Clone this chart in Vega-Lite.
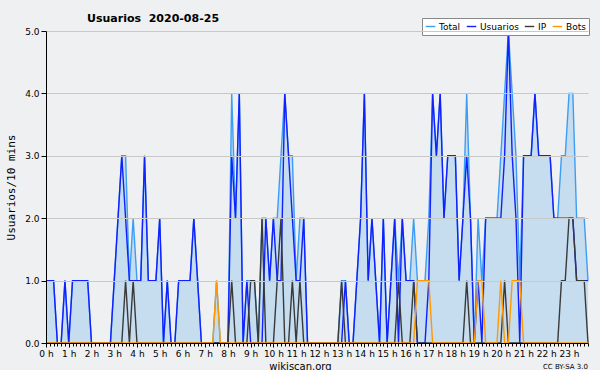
{
"$schema": "https://vega.github.io/schema/vega-lite/v6.json",
"width": 542, "height": 312,
"autosize": {"type": "none"},
"padding": {"left": 46, "top": 31, "right": 12, "bottom": 27},
"background": "#eff0f1",
"config": {"view": {"stroke": null}, "font": "DejaVu Sans"},
"title": {"text": "Usuarios\u00a0 2020-08-25", "anchor": "start", "frame": "group", "dx": 41, "dy": 14, "offset": 8, "fontSize": 11, "fontWeight": "bold", "font": "DejaVu Sans", "color": "#000"},
"data": {"values": [
{"m":0,"Total":1,"Usuarios":1,"IP":0,"Bots":0},
{"m":10,"Total":1,"Usuarios":1,"IP":0,"Bots":0},
{"m":20,"Total":1,"Usuarios":1,"IP":0,"Bots":0},
{"m":30,"Total":0,"Usuarios":0,"IP":0,"Bots":0},
{"m":40,"Total":0,"Usuarios":0,"IP":0,"Bots":0},
{"m":50,"Total":1,"Usuarios":1,"IP":0,"Bots":0},
{"m":60,"Total":0,"Usuarios":0,"IP":0,"Bots":0},
{"m":70,"Total":1,"Usuarios":1,"IP":0,"Bots":0},
{"m":80,"Total":1,"Usuarios":1,"IP":0,"Bots":0},
{"m":90,"Total":1,"Usuarios":1,"IP":0,"Bots":0},
{"m":100,"Total":1,"Usuarios":1,"IP":0,"Bots":0},
{"m":110,"Total":1,"Usuarios":1,"IP":0,"Bots":0},
{"m":120,"Total":0,"Usuarios":0,"IP":0,"Bots":0},
{"m":130,"Total":0,"Usuarios":0,"IP":0,"Bots":0},
{"m":140,"Total":0,"Usuarios":0,"IP":0,"Bots":0},
{"m":150,"Total":0,"Usuarios":0,"IP":0,"Bots":0},
{"m":160,"Total":0,"Usuarios":0,"IP":0,"Bots":0},
{"m":170,"Total":0,"Usuarios":0,"IP":0,"Bots":0},
{"m":180,"Total":1,"Usuarios":1,"IP":0,"Bots":0},
{"m":190,"Total":2,"Usuarios":2,"IP":0,"Bots":0},
{"m":200,"Total":3,"Usuarios":3,"IP":0,"Bots":0},
{"m":210,"Total":3,"Usuarios":2,"IP":1,"Bots":0},
{"m":220,"Total":1,"Usuarios":1,"IP":0,"Bots":0},
{"m":230,"Total":2,"Usuarios":1,"IP":1,"Bots":0},
{"m":240,"Total":1,"Usuarios":1,"IP":0,"Bots":0},
{"m":250,"Total":1,"Usuarios":1,"IP":0,"Bots":0},
{"m":260,"Total":3,"Usuarios":3,"IP":0,"Bots":0},
{"m":270,"Total":1,"Usuarios":1,"IP":0,"Bots":0},
{"m":280,"Total":1,"Usuarios":1,"IP":0,"Bots":0},
{"m":290,"Total":1,"Usuarios":1,"IP":0,"Bots":0},
{"m":300,"Total":2,"Usuarios":2,"IP":0,"Bots":0},
{"m":310,"Total":0,"Usuarios":0,"IP":0,"Bots":0},
{"m":320,"Total":1,"Usuarios":1,"IP":0,"Bots":0},
{"m":330,"Total":0,"Usuarios":0,"IP":0,"Bots":0},
{"m":340,"Total":0,"Usuarios":0,"IP":0,"Bots":0},
{"m":350,"Total":1,"Usuarios":1,"IP":0,"Bots":0},
{"m":360,"Total":1,"Usuarios":1,"IP":0,"Bots":0},
{"m":370,"Total":1,"Usuarios":1,"IP":0,"Bots":0},
{"m":380,"Total":1,"Usuarios":1,"IP":0,"Bots":0},
{"m":390,"Total":2,"Usuarios":2,"IP":0,"Bots":0},
{"m":400,"Total":1,"Usuarios":1,"IP":0,"Bots":0},
{"m":410,"Total":0,"Usuarios":0,"IP":0,"Bots":0},
{"m":420,"Total":0,"Usuarios":0,"IP":0,"Bots":0},
{"m":430,"Total":0,"Usuarios":0,"IP":0,"Bots":0},
{"m":440,"Total":0,"Usuarios":0,"IP":0,"Bots":0},
{"m":450,"Total":1,"Usuarios":0,"IP":0,"Bots":1},
{"m":460,"Total":0,"Usuarios":0,"IP":0,"Bots":0},
{"m":470,"Total":0,"Usuarios":0,"IP":0,"Bots":0},
{"m":480,"Total":0,"Usuarios":0,"IP":0,"Bots":0},
{"m":490,"Total":4,"Usuarios":3,"IP":1,"Bots":0},
{"m":500,"Total":2,"Usuarios":2,"IP":0,"Bots":0},
{"m":510,"Total":4,"Usuarios":4,"IP":0,"Bots":0},
{"m":520,"Total":0,"Usuarios":0,"IP":0,"Bots":0},
{"m":530,"Total":1,"Usuarios":1,"IP":0,"Bots":0},
{"m":540,"Total":1,"Usuarios":0,"IP":1,"Bots":0},
{"m":550,"Total":1,"Usuarios":0,"IP":1,"Bots":0},
{"m":560,"Total":0,"Usuarios":0,"IP":0,"Bots":0},
{"m":570,"Total":2,"Usuarios":0,"IP":2,"Bots":0},
{"m":580,"Total":2,"Usuarios":2,"IP":0,"Bots":0},
{"m":590,"Total":1,"Usuarios":1,"IP":0,"Bots":0},
{"m":600,"Total":2,"Usuarios":2,"IP":0,"Bots":0},
{"m":610,"Total":2,"Usuarios":1,"IP":1,"Bots":0},
{"m":620,"Total":3,"Usuarios":1,"IP":2,"Bots":0},
{"m":630,"Total":4,"Usuarios":4,"IP":0,"Bots":0},
{"m":640,"Total":3,"Usuarios":3,"IP":0,"Bots":0},
{"m":650,"Total":3,"Usuarios":2,"IP":1,"Bots":0},
{"m":660,"Total":1,"Usuarios":1,"IP":0,"Bots":0},
{"m":670,"Total":2,"Usuarios":1,"IP":1,"Bots":0},
{"m":680,"Total":2,"Usuarios":2,"IP":0,"Bots":0},
{"m":690,"Total":0,"Usuarios":0,"IP":0,"Bots":0},
{"m":700,"Total":0,"Usuarios":0,"IP":0,"Bots":0},
{"m":710,"Total":0,"Usuarios":0,"IP":0,"Bots":0},
{"m":720,"Total":0,"Usuarios":0,"IP":0,"Bots":0},
{"m":730,"Total":0,"Usuarios":0,"IP":0,"Bots":0},
{"m":740,"Total":0,"Usuarios":0,"IP":0,"Bots":0},
{"m":750,"Total":0,"Usuarios":0,"IP":0,"Bots":0},
{"m":760,"Total":0,"Usuarios":0,"IP":0,"Bots":0},
{"m":770,"Total":0,"Usuarios":0,"IP":0,"Bots":0},
{"m":780,"Total":1,"Usuarios":0,"IP":1,"Bots":0},
{"m":790,"Total":1,"Usuarios":1,"IP":0,"Bots":0},
{"m":800,"Total":0,"Usuarios":0,"IP":0,"Bots":0},
{"m":810,"Total":0,"Usuarios":0,"IP":0,"Bots":0},
{"m":820,"Total":1,"Usuarios":1,"IP":0,"Bots":0},
{"m":830,"Total":2,"Usuarios":2,"IP":0,"Bots":0},
{"m":840,"Total":4,"Usuarios":4,"IP":0,"Bots":0},
{"m":850,"Total":1,"Usuarios":1,"IP":0,"Bots":0},
{"m":860,"Total":2,"Usuarios":2,"IP":0,"Bots":0},
{"m":870,"Total":1,"Usuarios":1,"IP":0,"Bots":0},
{"m":880,"Total":0,"Usuarios":0,"IP":0,"Bots":0},
{"m":890,"Total":2,"Usuarios":2,"IP":0,"Bots":0},
{"m":900,"Total":0,"Usuarios":0,"IP":0,"Bots":0},
{"m":910,"Total":1,"Usuarios":1,"IP":0,"Bots":0},
{"m":920,"Total":2,"Usuarios":2,"IP":0,"Bots":0},
{"m":930,"Total":1,"Usuarios":0,"IP":1,"Bots":0},
{"m":940,"Total":2,"Usuarios":2,"IP":0,"Bots":0},
{"m":950,"Total":1,"Usuarios":1,"IP":0,"Bots":0},
{"m":960,"Total":1,"Usuarios":1,"IP":0,"Bots":0},
{"m":970,"Total":2,"Usuarios":1,"IP":1,"Bots":0},
{"m":980,"Total":1,"Usuarios":0,"IP":0,"Bots":1},
{"m":990,"Total":1,"Usuarios":0,"IP":0,"Bots":1},
{"m":1000,"Total":1,"Usuarios":0,"IP":0,"Bots":1},
{"m":1010,"Total":2,"Usuarios":1,"IP":0,"Bots":1},
{"m":1020,"Total":4,"Usuarios":4,"IP":0,"Bots":0},
{"m":1030,"Total":3,"Usuarios":3,"IP":0,"Bots":0},
{"m":1040,"Total":4,"Usuarios":4,"IP":0,"Bots":0},
{"m":1050,"Total":2,"Usuarios":2,"IP":0,"Bots":0},
{"m":1060,"Total":3,"Usuarios":3,"IP":0,"Bots":0},
{"m":1070,"Total":3,"Usuarios":3,"IP":0,"Bots":0},
{"m":1080,"Total":3,"Usuarios":3,"IP":0,"Bots":0},
{"m":1090,"Total":1,"Usuarios":1,"IP":0,"Bots":0},
{"m":1100,"Total":2,"Usuarios":2,"IP":0,"Bots":0},
{"m":1110,"Total":4,"Usuarios":3,"IP":1,"Bots":0},
{"m":1120,"Total":2,"Usuarios":2,"IP":0,"Bots":0},
{"m":1130,"Total":0,"Usuarios":0,"IP":0,"Bots":0},
{"m":1140,"Total":2,"Usuarios":1,"IP":0,"Bots":1},
{"m":1150,"Total":1,"Usuarios":0,"IP":0,"Bots":1},
{"m":1160,"Total":2,"Usuarios":2,"IP":0,"Bots":0},
{"m":1170,"Total":2,"Usuarios":2,"IP":0,"Bots":0},
{"m":1180,"Total":2,"Usuarios":2,"IP":0,"Bots":0},
{"m":1190,"Total":2,"Usuarios":2,"IP":0,"Bots":0},
{"m":1200,"Total":3,"Usuarios":2,"IP":0,"Bots":1},
{"m":1210,"Total":4,"Usuarios":3,"IP":1,"Bots":0},
{"m":1220,"Total":5,"Usuarios":5,"IP":0,"Bots":0},
{"m":1230,"Total":4,"Usuarios":3,"IP":0,"Bots":1},
{"m":1240,"Total":3,"Usuarios":2,"IP":0,"Bots":1},
{"m":1250,"Total":1,"Usuarios":0,"IP":0,"Bots":1},
{"m":1260,"Total":3,"Usuarios":3,"IP":0,"Bots":0},
{"m":1270,"Total":3,"Usuarios":3,"IP":0,"Bots":0},
{"m":1280,"Total":3,"Usuarios":3,"IP":0,"Bots":0},
{"m":1290,"Total":4,"Usuarios":4,"IP":0,"Bots":0},
{"m":1300,"Total":3,"Usuarios":3,"IP":0,"Bots":0},
{"m":1310,"Total":3,"Usuarios":3,"IP":0,"Bots":0},
{"m":1320,"Total":3,"Usuarios":3,"IP":0,"Bots":0},
{"m":1330,"Total":3,"Usuarios":3,"IP":0,"Bots":0},
{"m":1340,"Total":2,"Usuarios":2,"IP":0,"Bots":0},
{"m":1350,"Total":2,"Usuarios":2,"IP":0,"Bots":0},
{"m":1360,"Total":3,"Usuarios":2,"IP":1,"Bots":0},
{"m":1370,"Total":3,"Usuarios":2,"IP":1,"Bots":0},
{"m":1380,"Total":4,"Usuarios":2,"IP":2,"Bots":0},
{"m":1390,"Total":4,"Usuarios":2,"IP":2,"Bots":0},
{"m":1400,"Total":2,"Usuarios":1,"IP":1,"Bots":0},
{"m":1410,"Total":2,"Usuarios":1,"IP":1,"Bots":0},
{"m":1420,"Total":2,"Usuarios":1,"IP":1,"Bots":0},
{"m":1430,"Total":1,"Usuarios":1,"IP":0,"Bots":0}
]},
"layer": [
 {"mark": {"type": "area", "color": "#c6ddf0", "opacity": 1},
  "encoding": {
   "x": {"field": "m", "type": "quantitative",
     "scale": {"domain": [0, 1430], "nice": false, "zero": false},
     "axis": {"tickCount": 143, "labelExpr": "datum.value % 60 === 0 ? (datum.value / 60) + ' h' : ''",
       "labelOverlap": false, "labelFlush": false, "labelBound": false, "grid": false,
       "domainColor": "#000", "tickColor": "#000", "zindex": 1,
       "tickSize": {"condition": {"test": "datum.value % 60 === 0", "value": 4}, "value": 3},
       "labelFont": "DejaVu Sans", "labelFontSize": 9, "labelColor": "#000", "labelPadding": 2,
       "title": "wikiscan.org", "titleFont": "DejaVu Sans", "titleFontSize": 10, "titleFontWeight": "normal",
       "titleColor": "#000", "titlePadding": 3, "titleX": 254}},
   "y": {"field": "Total", "type": "quantitative",
     "scale": {"domain": [0, 5], "nice": false},
     "axis": {"values": [0,0.25,0.5,0.75,1,1.25,1.5,1.75,2,2.25,2.5,2.75,3,3.25,3.5,3.75,4,4.25,4.5,4.75,5],
       "labelExpr": "datum.value % 1 === 0 ? format(datum.value, '.1f') : ''",
       "labelOverlap": false, "labelFlush": false, "labelBound": false,
       "grid": true, "gridColor": "#c8c8c8",
       "gridOpacity": {"condition": {"test": "datum.value % 1 === 0 && datum.value > 0", "value": 1}, "value": 0},
       "tickSize": {"condition": {"test": "datum.value % 1 === 0", "value": 5}, "value": 3},
       "domainColor": "#000", "tickColor": "#000", "zindex": 1,
       "labelFont": "DejaVu Sans", "labelFontSize": 9, "labelColor": "#000", "labelPadding": 2,
       "title": "Usuarios/10 mins", "titleFont": "DejaVu Sans Mono", "titleFontSize": 11, "titleFontWeight": "normal",
       "titleColor": "#000", "titlePadding": 8}}
  }},
 {"transform": [{"fold": ["Total", "Usuarios", "IP", "Bots"], "as": ["serie", "valor"]}],
  "mark": {"type": "line", "strokeWidth": 1.4},
  "encoding": {
   "x": {"field": "m", "type": "quantitative"},
   "y": {"field": "valor", "type": "quantitative"},
   "color": {"field": "serie", "type": "nominal",
     "scale": {"domain": ["Total", "Usuarios", "IP", "Bots"], "range": ["#3d9df5", "#1020ff", "#3a3a3a", "#ff9900"]},
     "legend": {"orient": "none", "legendX": 376, "legendY": -13, "direction": "horizontal", "title": null,
       "fillColor": "#ffffff", "strokeColor": "#888888", "padding": 3, "gridAlign": "none",
       "symbolType": "stroke", "symbolSize": 90, "symbolStrokeWidth": 1.4,
       "labelFont": "DejaVu Sans", "labelFontSize": 9, "labelColor": "#000", "labelOffset": 3, "columnPadding": 2}}
  }},
 {"data": {"values": [{"lic": "CC BY-SA 3.0"}]},
  "mark": {"type": "text", "align": "right", "baseline": "middle", "fontSize": 7, "font": "DejaVu Sans", "color": "#000"},
  "encoding": {
   "x": {"datum": 1430, "type": "quantitative"},
   "y": {"datum": -0.385, "type": "quantitative"},
   "text": {"field": "lic"}
  }}
]
}
